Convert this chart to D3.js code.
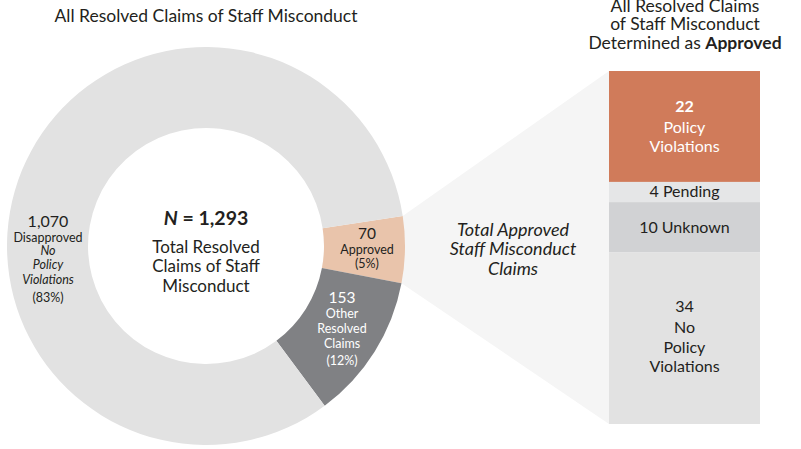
<!DOCTYPE html>
<html><head><meta charset="utf-8">
<script src="https://cdn.jsdelivr.net/npm/d3@7"></script>
<style>
html,body{margin:0;padding:0;background:#fff;}
text{font-family:Lato,"Open Sans",sans-serif;fill:#231f20;}
</style></head>
<body><svg id="c" width="801" height="449"></svg>
<script>
const donutCategories = ["Approved","Other Resolved Claims","Disapproved"];
const donutValues = [70,153,1070];
const donutColors = ["#e9c4ab","#808184","#e2e2e2"];
const barCategories = ["Policy Violations","Pending","Unknown","No Policy Violations"];
const barValues = [22,4,10,34];
const barColors = ["#d07b5a","#e5e6e7","#d1d2d4","#e2e2e2"];

const svg = d3.select("#c");
const cx = 206, cy = 246, R = 199, r = 118;
const start = 81.3*Math.PI/180;
const pie = d3.pie().sort(null).startAngle(start).endAngle(start+2*Math.PI);
const arcs = pie(donutValues);
const arc = d3.arc().innerRadius(r).outerRadius(R);

// bar
const barX0 = 609, barX1 = 760;
const total = d3.sum(barValues);
const y = d3.scaleLinear().domain([0,total]).range([71,424]);
const stack = [];
let acc = 0;
barValues.forEach((v,i)=>{stack.push({i, y0:acc, y1:acc+v}); acc+=v;});

// wedge
const a = arcs[0];
const pt = ang => [cx + R*Math.sin(ang), cy - R*Math.cos(ang)];
const p1 = pt(a.startAngle), p2 = pt(a.endAngle);
svg.append("polygon")
  .attr("points", [[cx,cy],p1,[barX0,y(0)],[barX0,y(total)],p2].map(p=>p.join(",")).join(" "))
  .attr("fill","#f5f5f5");

const g = svg.append("g").attr("transform",`translate(${cx},${cy})`);
g.append("circle").attr("r",r).attr("fill","#fff");
g.selectAll("path").data(arcs).join("path")
  .attr("d",arc).attr("fill",(d,i)=>donutColors[i]);

svg.selectAll("rect.bar").data(stack).join("rect").attr("class","bar")
  .attr("x",barX0).attr("width",barX1-barX0)
  .attr("y",d=>y(d.y0)).attr("height",d=>y(d.y1)-y(d.y0))
  .attr("fill",d=>barColors[d.i]);

function lines(x, ys, items){
  items.forEach((it,k)=>{
    const t = svg.append("text").attr("x",x).attr("y",ys[k])
      .attr("text-anchor","middle").attr("dominant-baseline","central")
      .style("font-size",(it.size||12.5)+"px");
    if(it.bold) t.style("font-weight","bold");
    if(it.italic) t.style("font-style","italic");
    if(it.fill) t.style("fill",it.fill);
    if(it.html) it.html(t); else t.text(it.t);
  });
}

// titles
lines(206,[15],[{t:"All Resolved Claims of Staff Misconduct",size:17.5}]);
lines(685,[5,23.5],[{t:"All Resolved Claims",size:17.5},{t:"of Staff Misconduct",size:17.5}]);
lines(685,[42],[{size:17.5,html:t=>{t.append("tspan").text("Determined as ");t.append("tspan").style("font-weight","bold").text("Approved");}}]);

// center
lines(206,[217],[{size:19.5,html:t=>{t.append("tspan").style("font-weight","bold").style("font-style","italic").text("N");t.append("tspan").style("font-weight","bold").text(" = 1,293");}}]);
lines(206,[246,265.5,285],[{t:"Total Resolved",size:17},{t:"Claims of Staff",size:17},{t:"Misconduct",size:17}]);

// disapproved
lines(48,[220,237,250,264,279,297],[
  {t:d3.format(",")(donutValues[2]),size:16},{t:"Disapproved"},{t:"No",italic:true},
  {t:"Policy",italic:true},{t:"Violations",italic:true},{t:"(83%)"}]);
// approved
lines(367,[233,249,263],[{t:String(donutValues[0]),size:15.5},{t:"Approved"},{t:"(5%)"}]);
// other
const w="#fff";
lines(342,[297,313,328,343,360],[{t:String(donutValues[1]),size:15.5,fill:w},{t:"Other",fill:w},{t:"Resolved",fill:w},{t:"Claims",fill:w},{t:"(12%)",fill:w}]);

// italic callout
lines(513,[229,248,268],[{t:"Total Approved",size:18,italic:true},{t:"Staff Misconduct",size:18,italic:true},{t:"Claims",size:18,italic:true}]);

// bar labels
const bx = (barX0+barX1)/2;
const m = i => (y(stack[i].y0)+y(stack[i].y1))/2;
lines(bx,[m(0)-21,m(0),m(0)+19],[{t:String(barValues[0]),size:16,bold:true,fill:w},{t:"Policy",size:16,fill:w},{t:"Violations",size:16,fill:w}]);
lines(bx,[m(1)-1.5],[{t:barValues[1]+" Pending",size:16}]);
lines(bx,[m(2)-1],[{t:barValues[2]+" Unknown",size:16}]);
lines(bx,[m(3)-33,m(3)-12,m(3)+8,m(3)+27],[{t:String(barValues[3]),size:16},{t:"No",size:16},{t:"Policy",size:16},{t:"Violations",size:16}]);
</script></body></html>
